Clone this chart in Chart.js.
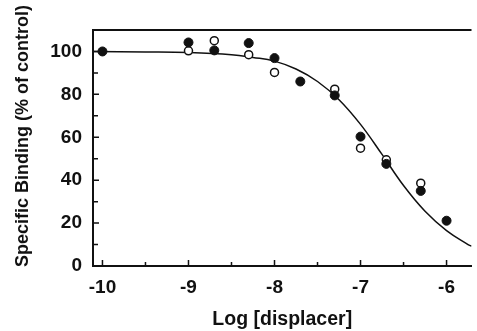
<!DOCTYPE html>
<html>
<head>
<meta charset="utf-8">
<script src="https://cdn.jsdelivr.net/npm/chart.js@4"></script>
<style>
  html, body { margin: 0; padding: 0; background: #fff; }
  #wrap { width: 477px; height: 331px; }
</style>
</head>
<body>
<div id="wrap"><canvas id="bindingChart" width="477" height="331"></canvas></div>
<script>
// log dose of displacer
const logDose = [-10, -9, -8.7, -8.3, -8, -7.7, -7.3, -7, -6.7, -6.3, -6];
// specific binding, % of control
const filledValues = [100, 104.2, 100.5, 103.9, 96.9, 86, 79.5, 60.3, 47.6, 35, 21.1];
const openValues = [null, 100.3, 105, 98.5, 90.2, null, 82.4, 54.9, 49.5, 38.6, null];
// fitted curve
const curveX = [-10.11, -9.5, -9, -8.5, -8.25, -8, -7.75, -7.5, -7.25, -7, -6.75, -6.5, -6.25, -6, -5.75, -5.71];
const curveY = [100, 99.8, 99.5, 98.5, 97.2, 95.5, 91.8, 86, 77.5, 66, 52, 37.5, 25.5, 16.5, 10, 9.2];
const xTicks = [-10, -9.5, -9, -8.5, -8, -7.5, -7, -6.5, -6];
const yTicks = [0, 10, 20, 30, 40, 50, 60, 70, 80, 90, 100];

const ink = '#111';
const fam = '"Liberation Sans", Arial, sans-serif';
const tickFont = { family: fam, size: 19, weight: 'bold' };

const axisDecor = {
    id: 'axisDecor',
    afterDraw(chart) {
        const { ctx, chartArea: a, scales: { x, y } } = chart;
        ctx.save();
        ctx.strokeStyle = ink;
        ctx.lineWidth = 1.5;
        ctx.beginPath();
        xTicks.forEach(v => {
            const px = x.getPixelForValue(v);
            ctx.moveTo(px, a.bottom);
            ctx.lineTo(px, a.bottom - (Number.isInteger(v) ? 6 : 4));
        });
        yTicks.forEach(v => {
            const py = y.getPixelForValue(v);
            ctx.moveTo(a.left, py);
            ctx.lineTo(a.left + (v % 20 === 0 ? 6 : 5), py);
        });
        ctx.stroke();
        // top frame line
        ctx.lineWidth = 2;
        ctx.beginPath();
        ctx.moveTo(a.left, a.top);
        ctx.lineTo(a.right, a.top);
        ctx.stroke();
        // y axis title
        ctx.fillStyle = ink;
        ctx.font = 'bold 18px ' + fam;
        ctx.textAlign = 'center';
        ctx.textBaseline = 'middle';
        ctx.translate(23, 136);
        ctx.rotate(-Math.PI / 2);
        ctx.fillText('Specific Binding (% of control)', 0, 0);
        ctx.restore();
    }
};

document.addEventListener('DOMContentLoaded', () => {
    const ctx = document.getElementById('bindingChart').getContext('2d');

    new Chart(ctx, {
        type: 'scatter',
        data: {
            datasets: [{
                label: 'filled',
                data: logDose.map((d, i) => ({ x: d, y: filledValues[i] })),
                pointRadius: 4.5,
                pointBackgroundColor: ink,
                pointBorderColor: ink,
                pointBorderWidth: 1,
                order: 0,
            }, {
                label: 'open',
                data: logDose.map((d, i) => ({ x: d, y: openValues[i] })).filter(p => p.y !== null),
                pointRadius: 4,
                pointBackgroundColor: '#fff',
                pointBorderColor: ink,
                pointBorderWidth: 1.5,
                order: 1,
            }, {
                label: 'fit',
                type: 'line',
                data: curveX.map((d, i) => ({ x: d, y: curveY[i] })),
                borderColor: ink,
                borderWidth: 1.5,
                pointRadius: 0,
                tension: 0.4,
                fill: false,
                order: 2,
            }],
        },
        options: {
            responsive: false,
            animation: false,
            layout: { padding: { top: 30, right: 0, left: 0, bottom: 0 } },
            plugins: { legend: { display: false }, tooltip: { enabled: false } },
            scales: {
                x: {
                    type: 'linear',
                    min: -10.11,
                    max: -5.71,
                    afterBuildTicks: s => { s.ticks = xTicks.map(v => ({ value: v })); },
                    afterFit: s => { s.height = 65; },
                    grid: { display: false, drawTicks: false },
                    border: { display: true, color: ink, width: 2 },
                    ticks: {
                        autoSkip: false,
                        maxRotation: 0,
                        padding: 10,
                        color: ink,
                        font: tickFont,
                        callback: v => Number.isInteger(v) ? String(v) : '',
                    },
                    title: {
                        display: true,
                        text: 'Log [displacer]',
                        color: ink,
                        font: { family: fam, size: 19.5, weight: 'bold' },
                        padding: { top: 0, bottom: 0 },
                    },
                },
                y: {
                    min: 0,
                    max: 110,
                    afterBuildTicks: s => { s.ticks = yTicks.map(v => ({ value: v })); },
                    afterFit: s => { s.width = 93; },
                    grid: { display: false, drawTicks: false },
                    border: { display: true, color: ink, width: 2 },
                    ticks: {
                        autoSkip: false,
                        padding: 11,
                        color: ink,
                        font: tickFont,
                        callback: v => v % 20 === 0 ? String(v) : '',
                    },
                },
            },
        },
        plugins: [axisDecor],
    });
});
</script>
</body>
</html>
